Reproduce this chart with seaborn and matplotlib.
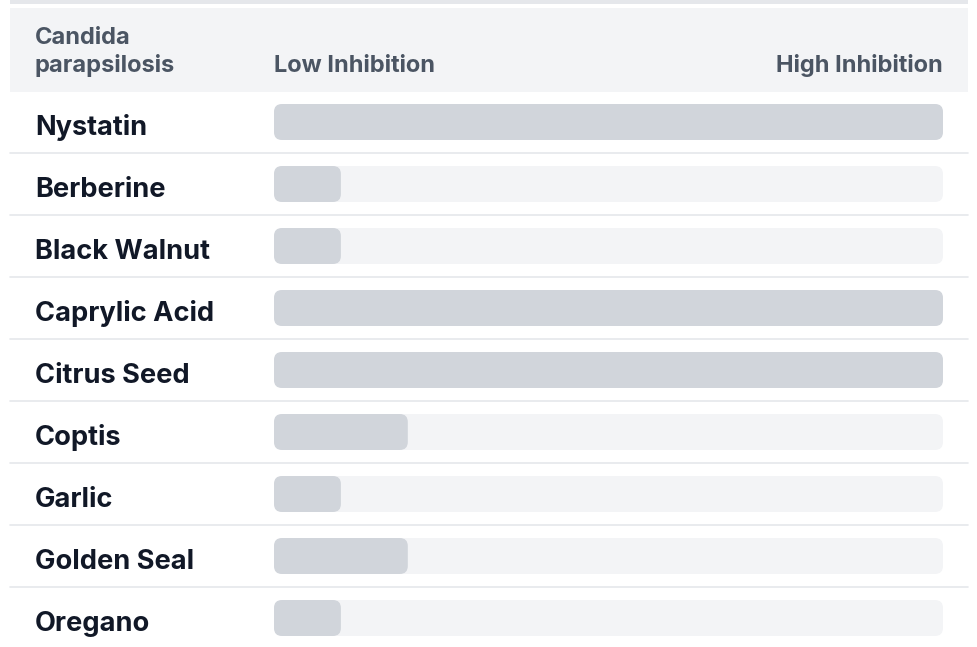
import matplotlib
matplotlib.use("Agg")
import matplotlib.pyplot as plt
import matplotlib.transforms as mtransforms
from matplotlib.patches import FancyBboxPatch, Rectangle
import pandas as pd
import seaborn as sns

# ---------------------------------------------------------------------------
# Data
# ---------------------------------------------------------------------------
organism = ["Candida", "parapsilosis"]
remedies = ["Nystatin", "Berberine", "Black Walnut", "Caprylic Acid",
            "Citrus Seed", "Coptis", "Garlic", "Golden Seal", "Oregano"]
inhibition = [10, 1, 1, 10, 10, 2, 1, 2, 1]
scale_max = 10
low_label = "Low Inhibition"
high_label = "High Inhibition"

# ---------------------------------------------------------------------------
# Style
# ---------------------------------------------------------------------------
W, H, DPI = 977, 647, 100
TRACK = "#f3f4f6"
FILL = "#d1d5db"
RULE = "#e5e7eb"
HEAD_TXT = "#4b5563"
LABEL_TXT = "#111827"

sns.set_theme(style="white")
plt.rcParams["font.family"] = ["Inter", "DejaVu Sans"]

df = pd.DataFrame({"remedy": remedies,
                   "score": inhibition,
                   "track": [scale_max] * len(remedies)})

fig = plt.figure(figsize=(W / DPI, H / DPI), dpi=DPI)
fig.patch.set_facecolor("white")

# pixel helpers for the frame
def fx(px):
    return px / W

def fy(py):
    return 1 - py / H

# top strip and header band
fig.add_artist(Rectangle((fx(10), fy(4)), fx(958), 4 / H,
                         transform=fig.transFigure, fc=RULE, lw=0))
fig.add_artist(Rectangle((fx(10), fy(92)), fx(958), 84 / H,
                         transform=fig.transFigure, fc=TRACK, lw=0))

# bar area: one row = 62 px
left, right, top = 274, 943, 91
row_h = 62
ax = fig.add_axes([fx(left), fy(top + row_h * len(remedies)),
                   fx(right - left), row_h * len(remedies) / H])

sns.barplot(data=df, x="track", y="remedy", color=TRACK, saturation=1,
            width=0.58, linewidth=0, ax=ax)
sns.barplot(data=df, x="score", y="remedy", color=FILL, saturation=1,
            width=0.58, linewidth=0, ax=ax)
ax.set_xlim(0, scale_max)
ax.set_ylim(len(remedies) - 0.5, -0.5)

# swap the plain rectangles for rounded ones
px_x = scale_max / (right - left)
px_y = 1 / row_h
radius = 8 * px_x
for p in list(ax.patches):
    x, y = p.get_x(), p.get_y()
    w, h = p.get_width(), p.get_height()
    fc = p.get_facecolor()
    p.remove()
    if w <= 0:
        continue
    ax.add_patch(FancyBboxPatch(
        (x, y), w, h,
        boxstyle=f"round,pad=0,rounding_size={radius}",
        mutation_aspect=px_y / px_x, fc=fc, lw=0))

ax.set_axis_off()

# row separators
x0 = (10 - left) / (right - left)
x1 = (968 - left) / (right - left)
for i in range(len(remedies) - 1):
    ax.axhline(i + 0.5, xmin=x0, xmax=x1, color=RULE, lw=1.2,
               clip_on=False, zorder=0)

# row labels
trans = mtransforms.blended_transform_factory(fig.transFigure, ax.transData)
for i, name in enumerate(remedies):
    ax.text(fx(35), i + 0.21, name, transform=trans, ha="left",
            va="baseline", fontsize=19.6, fontweight="bold",
            color=LABEL_TXT)

# header
head_kw = dict(va="baseline", fontsize=17, fontweight="bold", color=HEAD_TXT)
fig.text(fx(35), fy(44), organism[0], ha="left", **head_kw)
fig.text(fx(35), fy(72), organism[1], ha="left", **head_kw)
fig.text(fx(left), fy(72), low_label, ha="left", **head_kw)
fig.text(fx(right), fy(72), high_label, ha="right", **head_kw)

fig.savefig("out.png", dpi=DPI)
